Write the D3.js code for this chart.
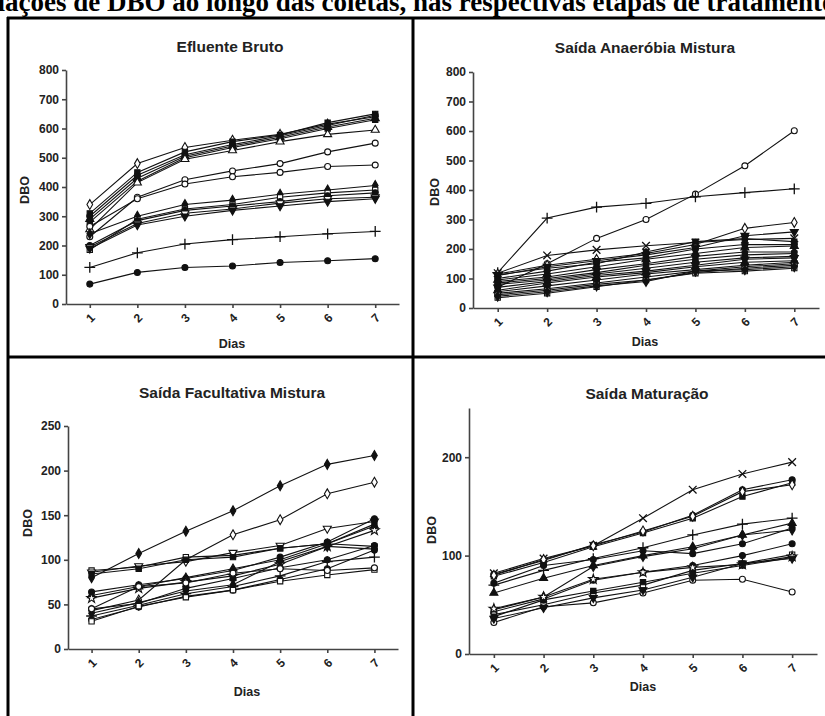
<!DOCTYPE html>
<html>
<head>
  <meta charset="utf-8">
  <script src="https://cdn.jsdelivr.net/npm/d3@7"></script>
  <style>
    body { margin: 0; background: #fff; }
    svg { display: block; }
    .tick text { font-family: "Liberation Sans", Arial, sans-serif; font-weight: bold; font-size: 12px; fill: #222; }
  </style>
</head>
<body>
<script type="text/javascript">
  "use strict";

  // ---- data ----
  var dias = [1, 2, 3, 4, 5, 6, 7];
  var cabecalho = "Variações de DBO ao longo das coletas, nas respectivas etapas de tratamento";

  var titulos = ["Efluente Bruto", "Saída Anaeróbia Mistura", "Saída Facultativa Mistura", "Saída Maturação"];

  var ticksBruto = [0, 100, 200, 300, 400, 500, 600, 700, 800];
  var ticksAnaerobia = [0, 100, 200, 300, 400, 500, 600, 700, 800];
  var ticksFacultativa = [0, 50, 100, 150, 200, 250];
  var ticksMaturacao = [0, 100, 200];

  var seriesBruto = [
    [340, 480, 535, 560, 580, 615, 640],
    [310, 450, 520, 555, 578, 620, 650],
    [300, 440, 510, 545, 575, 610, 645],
    [290, 430, 505, 540, 570, 605, 635],
    [280, 420, 500, 535, 565, 600, 630],
    [255, 415, 495, 525, 555, 580, 595],
    [230, 365, 425, 455, 480, 520, 550],
    [265, 360, 410, 435, 450, 470, 475],
    [240, 300, 340, 355, 375, 390, 405],
    [185, 290, 325, 340, 365, 380, 390],
    [200, 285, 320, 335, 350, 370, 380],
    [195, 275, 310, 325, 345, 360, 365],
    [190, 270, 300, 320, 335, 350, 360],
    [125, 175, 205, 220, 230, 240, 248],
    [68, 108, 125, 130, 142, 148, 155]
  ];

  var seriesAnaerobia = [
    [70, 150, 236, 300, 386, 482, 601],
    [120, 305, 342, 355, 377, 391, 404],
    [115, 145, 165, 185, 215, 270, 290],
    [110, 140, 160, 180, 205, 245, 258],
    [118, 178, 197, 211, 222, 232, 236],
    [112, 135, 150, 190, 225, 235, 225],
    [100, 125, 155, 170, 200, 215, 215],
    [95, 115, 140, 165, 185, 205, 210],
    [90, 105, 130, 150, 175, 190, 190],
    [85, 100, 120, 145, 165, 180, 185],
    [80, 95, 115, 135, 155, 170, 175],
    [70, 90, 110, 125, 145, 165, 170],
    [60, 85, 105, 120, 140, 155, 160],
    [55, 75, 95, 115, 130, 145, 155],
    [50, 65, 85, 105, 125, 140, 150],
    [45, 60, 80, 95, 120, 135, 145],
    [35, 50, 72, 95, 118, 125, 135],
    [40, 55, 75, 90, 125, 130, 140]
  ];

  var seriesFacultativa = [
    [80, 107, 132, 155, 183, 207, 217],
    [43, 55, 100, 128, 145, 174, 187],
    [88, 92, 103, 105, 113, 118, 115],
    [86, 93, 98, 108, 116, 135, 143],
    [84, 90, 100, 103, 113, 118, 140],
    [64, 72, 79, 88, 103, 120, 146],
    [60, 70, 80, 90, 100, 118, 138],
    [57, 68, 75, 82, 95, 115, 133],
    [45, 51, 68, 79, 91, 100, 116],
    [40, 52, 65, 72, 98, 115, 112],
    [37, 49, 62, 70, 82, 98, 103],
    [33, 47, 59, 66, 78, 90, 111],
    [31, 48, 58, 66, 76, 83, 89],
    [45, 70, 74, 85, 90, 88, 91]
  ];

  var seriesMaturacao = [
    [82, 97, 110, 138, 167, 183, 195],
    [81, 95, 111, 124, 141, 167, 177],
    [79, 93, 109, 123, 138, 160, 174],
    [80, 96, 110, 125, 140, 165, 172],
    [70, 85, 97, 108, 121, 132, 138],
    [62, 77, 90, 100, 109, 121, 133],
    [72, 90, 96, 105, 102, 112, 128],
    [45, 58, 89, 99, 107, 121, 126],
    [43, 56, 75, 83, 90, 100, 112],
    [40, 50, 62, 70, 85, 92, 101],
    [38, 55, 64, 73, 82, 90, 98],
    [46, 58, 76, 83, 88, 91, 99],
    [32, 48, 52, 62, 75, 76, 63],
    [36, 47, 57, 65, 78, 92, 97]
  ];

  // marker styles per series (shape, filled)
  var marcadores = [
    ["diamond", 0], ["square", 1], ["circle", 1], ["triangle", 1], ["square", 1],
    ["triangle", 0], ["circle", 0], ["circle", 0], ["diamond", 1], ["square", 0],
    ["circle", 1], ["down", 0], ["down", 1], ["plus", 1], ["circle", 1]
  ];
  var marcadoresAn = [
    ["circle", 0], ["plus", 1], ["diamond", 0], ["down", 1], ["times", 1], ["square", 1],
    ["circle", 1], ["triangle", 1], ["diamond", 1], ["square", 1], ["circle", 1], ["down", 1],
    ["triangle", 1], ["circle", 1], ["square", 1], ["circle", 0], ["square", 0], ["diamond", 1]
  ];
  var marcadoresFac = [
    ["diamond", 1], ["diamond", 0], ["square", 0], ["down", 0], ["square", 1], ["circle", 1],
    ["triangle", 1], ["star", 0], ["circle", 1], ["diamond", 1], ["plus", 1], ["circle", 1],
    ["square", 0], ["circle", 0]
  ];
  var marcadoresMat = [
    ["times", 1], ["circle", 1], ["square", 1], ["diamond", 0], ["plus", 1], ["triangle", 1],
    ["circle", 1], ["diamond", 1], ["circle", 1], ["square", 0], ["square", 1], ["star", 0],
    ["circle", 0], ["down", 1]
  ];

  // ---- layout ----
  var W = 825, H = 716;
  var svg = d3.select("body").append("svg").attr("width", W).attr("height", H);

  // header of the page, cut by the edges as in the scan
  svg.append("text")
    .attr("x", -45).attr("y", 11)
    .style("font-family", "'Liberation Serif', 'Times New Roman', serif")
    .style("font-weight", "bold")
    .style("font-size", "27px")
    .text(cabecalho);

  var paineis = [
    { titulo: titulos[0], dados: seriesBruto, marc: marcadores, ticks: ticksBruto, ymax: 800,
      xr: [66, 399], yr: [304, 70], tx: 230, ty: 52, dboX: 25, dboY: 190, diasX: 232, diasY: 348 },
    { titulo: titulos[1], dados: seriesAnaerobia, marc: marcadoresAn, ticks: ticksAnaerobia, ymax: 800,
      xr: [473, 819], yr: [308, 72], tx: 645, ty: 53, dboX: 435, dboY: 192, diasX: 645, diasY: 346 },
    { titulo: titulos[2], dados: seriesFacultativa, marc: marcadoresFac, ticks: ticksFacultativa, ymax: 250,
      xr: [68, 398], yr: [649, 426], tx: 232, ty: 398, dboX: 28, dboY: 523, diasX: 247, diasY: 696 },
    { titulo: titulos[3], dados: seriesMaturacao, marc: marcadoresMat, ticks: ticksMaturacao, ymax: 250,
      xr: [469, 817], yr: [654, 408], tx: 647, ty: 399, dboX: 432, dboY: 530, diasX: 643, diasY: 691 }
  ];

  var tipos = {
    circle: d3.symbolCircle, square: d3.symbolSquare, triangle: d3.symbolTriangle,
    down: d3.symbolTriangle, diamond: d3.symbolDiamond, plus: d3.symbolPlus || d3.symbolCross,
    times: d3.symbolTimes || d3.symbolCross, star: d3.symbolStar
  };

  paineis.forEach(function(p) {
    var g = svg.append("g");
    var x = d3.scaleLinear().domain([0.5, 7.5]).range(p.xr);
    var y = d3.scaleLinear().domain([0, p.ymax]).range(p.yr);

    var ax = g.append("g").attr("transform", "translate(0," + p.yr[0] + ")")
      .call(d3.axisBottom(x).tickValues(dias).tickFormat(d3.format("d")).tickSize(4).tickSizeOuter(0));
    ax.selectAll("text")
      .attr("transform", "translate(0,14) rotate(-45)")
      .attr("dy", "0.35em").attr("y", 0).attr("x", 0)
      .style("text-anchor", "middle");

    g.append("g").attr("transform", "translate(" + p.xr[0] + ",0)")
      .call(d3.axisLeft(y).tickValues(p.ticks).tickSize(4).tickSizeOuter(0));

    g.selectAll(".domain, .tick line").attr("stroke", "#444").attr("stroke-width", 1.6);

    var linha = d3.line().x(function(d, i) { return x(dias[i]); }).y(function(d) { return y(d); });

    p.dados.forEach(function(s, k) {
      var m = p.marc[k % p.marc.length];
      var aberto = m[0] === "plus" || m[0] === "times";
      g.append("path").datum(s).attr("d", linha)
        .attr("fill", "none").attr("stroke", "#111").attr("stroke-width", 1.1);
      var sym = d3.symbol().type(tipos[m[0]]).size(aberto ? 40 : 28);
      g.selectAll(null).data(s).enter().append("path")
        .attr("d", sym)
        .attr("transform", function(d, i) {
          return "translate(" + x(dias[i]) + "," + y(d) + ")" + (m[0] === "down" ? " rotate(180)" : "");
        })
        .attr("fill", aberto ? "none" : (m[1] ? "#111" : "#fff"))
        .attr("stroke", "#111").attr("stroke-width", aberto ? 1.3 : 1.1);
    });

    g.append("text").attr("x", p.tx).attr("y", p.ty)
      .attr("text-anchor", "middle")
      .style("font-family", "'Liberation Sans', Arial, sans-serif")
      .style("font-weight", "bold").style("font-size", "15.5px").style("fill", "#222")
      .text(p.titulo);

    g.append("text")
      .attr("transform", "translate(" + p.dboX + "," + p.dboY + ") rotate(-90)")
      .attr("text-anchor", "middle").attr("dy", "0.35em")
      .style("font-family", "'Liberation Sans', Arial, sans-serif")
      .style("font-weight", "bold").style("font-size", "12.5px").style("fill", "#222")
      .text("DBO");

    g.append("text").attr("x", p.diasX).attr("y", p.diasY)
      .attr("text-anchor", "middle")
      .style("font-family", "'Liberation Sans', Arial, sans-serif")
      .style("font-weight", "bold").style("font-size", "12.5px").style("fill", "#222")
      .text("Dias");
  });

  // frame around the four panels
  var moldura = svg.append("g").attr("stroke", "#000").attr("stroke-width", 3).attr("fill", "none");
  moldura.append("line").attr("x1", 7).attr("x2", 830).attr("y1", 18).attr("y2", 18);
  moldura.append("line").attr("x1", 8).attr("x2", 8).attr("y1", 17).attr("y2", 720);
  moldura.append("line").attr("x1", 413).attr("x2", 413).attr("y1", 17).attr("y2", 720);
  moldura.append("line").attr("x1", 7).attr("x2", 830).attr("y1", 357).attr("y2", 357);
</script>
</body>
</html>
